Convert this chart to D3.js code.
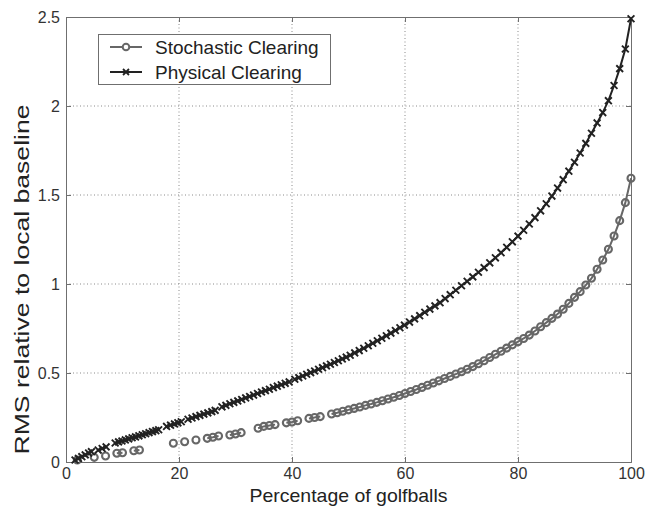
<!DOCTYPE html>
<html><head><meta charset="utf-8">
<script src="https://cdn.jsdelivr.net/npm/d3@7"></script>
<style>
html,body{margin:0;padding:0;background:#fff;}
svg{display:block;font-family:"Liberation Sans",Arial,Helvetica,sans-serif;}
</style></head>
<body>
<svg id="chart" width="645" height="506"></svg>
<script>
// ---- data ----
const seriesNames = ["Stochastic Clearing", "Physical Clearing"];
const xTicks = [0, 20, 40, 60, 80, 100];
const yTicks = [0, 0.5, 1, 1.5, 2, 2.5];
const yTickLabels = ["0", "0.5", "1", "1.5", "2", "2.5"];
const xTitle = "Percentage of golfballs";
const yTitle = "RMS relative to local baseline";

// null entries mark breaks in the curve
const stochX = [2,null,5,null,7,null,9,10,null,12,13,null,19,null,21,null,23,null,25,26,27,null,29,30,31,null,34,35,36,37,null,39,40,41,null,43,44,45,null,
  47,48,49,50,51,52,53,54,55,56,57,58,59,60,61,62,63,64,65,66,67,68,69,70,71,72,73,74,75,76,77,78,79,80,81,82,83,84,85,86,87,88,89,90,91,92,93,94,95,96,97,98,99,100];
const stochY = [0.011,null,0.026,null,0.034,null,0.049,0.052,null,0.063,0.067,null,0.105,null,0.114,null,0.124,null,0.133,0.139,0.146,null,0.152,0.157,0.165,null,0.190,0.200,0.205,0.210,null,0.220,0.225,0.232,null,0.245,0.250,0.255,null,
  0.270,0.277,0.285,0.293,0.301,0.309,0.318,0.326,0.335,0.344,0.354,0.364,0.374,0.385,0.396,0.407,0.419,0.431,0.444,0.456,0.469,0.481,0.494,0.507,0.521,0.536,0.552,0.569,0.587,0.605,0.622,0.640,0.658,0.676,0.694,0.713,0.736,0.760,0.783,0.807,0.831,0.858,0.891,0.925,0.957,0.994,1.032,1.083,1.135,1.195,1.270,1.356,1.457,1.594];

const physX = [1.6,2.2,2.8,3.4,4.0,4.5,null,5.7,6.4,7.1,null,
  8.7,9.3,9.9,10.5,11.1,11.7,12.3,12.9,13.5,14.1,14.7,15.3,15.9,16.4,null,
  17.8,18.5,19.2,19.8,20.4,null,
  21.6,22.3,23.0,23.7,24.4,25.1,25.8,26.4,null,
  27.6,28.3,29.0,29.7,30.4,31.1,31.8,32.5,33.2,33.9,34.6,35.3,36.0,36.7,37.4,38.1,38.8,39.5,null,
  40.5,41.2,41.9,42.6,43.3,44.0,44.7,45.4,46.1,46.8,47.5,48.2,48.9,49.6,50.3,51.1,51.9,52.7,53.5,54.3,55.1,55.9,56.7,57.5,58.3,59.1,59.9,
  60.8,61.7,62.6,63.5,64.4,65.3,66.2,67.1,68,69,70,71,72,73,74,75,76,77,78,79,80,81,82,83,84,85,86,87,88,89,90,91,92,93,94,95,96,97,98,99,100];
const physY = [0.011,0.020,0.030,0.040,0.050,0.058,null,0.067,0.076,0.085,null,
  0.107,0.113,0.118,0.124,0.130,0.136,0.141,0.147,0.153,0.159,0.165,0.171,0.176,0.181,null,
  0.200,0.207,0.214,0.220,0.226,null,
  0.240,0.247,0.255,0.262,0.269,0.276,0.283,0.290,null,
  0.310,0.318,0.327,0.335,0.343,0.351,0.360,0.368,0.376,0.385,0.393,0.401,0.409,0.418,0.426,0.434,0.442,0.450,null,
  0.465,0.474,0.483,0.493,0.502,0.511,0.521,0.530,0.540,0.549,0.559,0.569,0.579,0.589,0.600,0.613,0.626,0.639,0.653,0.667,0.681,0.695,0.709,0.724,0.739,0.754,0.769,
  0.786,0.804,0.822,0.841,0.859,0.877,0.895,0.918,0.940,0.965,0.990,1.015,1.040,1.066,1.092,1.119,1.147,1.176,1.206,1.237,1.269,1.302,1.337,1.373,1.411,1.451,1.494,1.539,1.586,1.634,1.684,1.736,1.790,1.847,1.905,1.963,2.030,2.115,2.210,2.320,2.490];

// ---- layout ----
const L = 66, R = 631, T = 17, B = 462;
const svg = d3.select("#chart");
const x = d3.scaleLinear().domain([0, 100]).range([L, R]);
const y = d3.scaleLinear().domain([0, 2.5]).range([B, T]);

const frameColor = "#6f6f6f";
const textColor = "#333";

// grid
const g = svg.append("g");
g.selectAll(".gx").data(xTicks.slice(1, -1)).join("line")
  .attr("x1", d => x(d)).attr("x2", d => x(d)).attr("y1", T).attr("y2", B)
  .attr("stroke", "#8a8a8a").attr("stroke-width", 1).attr("stroke-dasharray", "1,2.5");
g.selectAll(".gy").data(yTicks.slice(1, -1)).join("line")
  .attr("y1", d => y(d)).attr("y2", d => y(d)).attr("x1", L).attr("x2", R)
  .attr("stroke", "#8a8a8a").attr("stroke-width", 1).attr("stroke-dasharray", "1,2.5");

// axes with inward ticks
const axB = d3.axisBottom(x).tickValues(xTicks).tickSize(-5).tickPadding(6).tickFormat(d3.format("d"));
const axT = d3.axisTop(x).tickValues(xTicks).tickSize(-5).tickFormat("");
const axLf = d3.axisLeft(y).tickValues(yTicks).tickSize(-5).tickPadding(6).tickFormat((d, i) => yTickLabels[i]);
const axRt = d3.axisRight(y).tickValues(yTicks).tickSize(-5).tickFormat("");
function styleAxis(sel) {
  sel.select(".domain").attr("stroke", frameColor);
  sel.selectAll(".tick line").attr("stroke", frameColor);
  sel.selectAll("text").attr("fill", textColor).attr("font-size", 16)
    .attr("font-family", "'Liberation Sans',Arial,sans-serif");
}
svg.append("g").attr("transform", `translate(0,${B})`).call(axB).call(styleAxis);
svg.append("g").attr("transform", `translate(0,${T})`).call(axT).call(styleAxis);
svg.append("g").attr("transform", `translate(${L},0)`).call(axLf).call(styleAxis);
svg.append("g").attr("transform", `translate(${R},0)`).call(axRt).call(styleAxis);

// titles
svg.append("text").attr("x", x(50)).attr("y", 502).attr("text-anchor", "middle")
  .attr("font-size", 19).attr("fill", "#222").attr("textLength", 198).attr("lengthAdjust", "spacingAndGlyphs").text(xTitle);
svg.append("text").attr("transform", `translate(29,${(T + B) / 2 + 40}) rotate(-90)`)
  .attr("text-anchor", "middle").attr("font-size", 20).attr("fill", "#222")
  .attr("textLength", 350).attr("lengthAdjust", "spacingAndGlyphs").text(yTitle);

// series
const stochData = stochX.map((v, i) => ({ x: v, y: stochY[i] }));
const physData = physX.map((v, i) => ({ x: v, y: physY[i] }));
const line = d3.line().defined(d => d.y != null).x(d => x(d.x)).y(d => y(d.y));

const stochColor = "#676767", physColor = "#222";

svg.append("path").datum(stochData).attr("d", line).attr("fill", "none")
  .attr("stroke", stochColor).attr("stroke-width", 2);
svg.append("g").selectAll("circle").data(stochData.filter(d => d.y != null)).join("circle")
  .attr("cx", d => x(d.x)).attr("cy", d => y(d.y)).attr("r", 3.5)
  .attr("fill", "none").attr("stroke", stochColor).attr("stroke-width", 2.1);

svg.append("path").datum(physData).attr("d", line).attr("fill", "none")
  .attr("stroke", physColor).attr("stroke-width", 2);
const xm = 3.4;
svg.append("g").selectAll("path").data(physData.filter(d => d.y != null)).join("path")
  .attr("d", d => { const cx = x(d.x), cy = y(d.y);
    return `M${cx - xm},${cy - xm}L${cx + xm},${cy + xm}M${cx - xm},${cy + xm}L${cx + xm},${cy - xm}`; })
  .attr("stroke", physColor).attr("stroke-width", 1.9).attr("fill", "none");

// legend
const lg = svg.append("g");
lg.append("rect").attr("x", 98.5).attr("y", 34.5).attr("width", 232).attr("height", 50)
  .attr("fill", "#fff").attr("stroke", frameColor).attr("stroke-width", 1);
const rows = [47, 72];
lg.append("line").attr("x1", 110).attr("x2", 142).attr("y1", rows[0]).attr("y2", rows[0])
  .attr("stroke", stochColor).attr("stroke-width", 2);
lg.append("circle").attr("cx", 126).attr("cy", rows[0]).attr("r", 3.3)
  .attr("fill", "#fff").attr("stroke", stochColor).attr("stroke-width", 2);
lg.append("line").attr("x1", 110).attr("x2", 142).attr("y1", rows[1]).attr("y2", rows[1])
  .attr("stroke", physColor).attr("stroke-width", 2);
lg.append("path").attr("d", `M${126 - 3},${rows[1] - 3}L${126 + 3},${rows[1] + 3}M${126 - 3},${rows[1] + 3}L${126 + 3},${rows[1] - 3}`)
  .attr("stroke", physColor).attr("stroke-width", 1.8);
lg.selectAll("text.lt").data(seriesNames).join("text")
  .attr("x", 155).attr("y", (d, i) => rows[i] + 7).attr("font-size", 19).attr("fill", "#222").text(d => d);
</script>
</body></html>
